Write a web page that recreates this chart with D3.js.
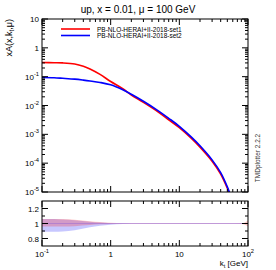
<!DOCTYPE html>
<html><head><meta charset="utf-8">
<script src="https://cdn.jsdelivr.net/npm/d3@7"></script>
<style>body{margin:0;background:#fff}svg{display:block;font-family:"Liberation Sans",Arial,sans-serif}</style>
</head><body><svg id="c" width="276" height="270"></svg>
<script>
const title = "up, x = 0.01, μ = 100 GeV";
const seriesNames = ["PB-NLO-HERAI+II-2018-set1", "PB-NLO-HERAI+II-2018-set2"];
const seriesColors = ["#ff0000", "#0000ff"];
const kt = [0.1,0.15,0.2,0.3,0.4,0.5,0.7,1,1.5,2,3,5,7,10,15,20,30,40,50,60];
const set1 = [0.31,0.305,0.30,0.275,0.23,0.185,0.12,0.068,0.038,0.023,0.0128,0.0058,0.0032,0.0017,0.00072,0.00036,0.000117,4.2e-5,1.35e-5,4.2e-6];
const set2 = [0.094,0.092,0.088,0.082,0.076,0.071,0.063,0.052,0.035,0.0245,0.014,0.0064,0.0036,0.0019,0.0008,0.0004,0.00013,4.7e-5,1.5e-5,4.6e-6];
const ratioK = [0.1,0.15,0.2,0.3,0.5,0.7,1,1.5,2,5,10,20,50,80,90,100];
const band1Lo = [0.96,0.96,0.96,0.965,0.98,0.99,0.995,0.998,0.998,0.998,0.998,0.998,0.998,0.995,0.985,0.96];
const band1Hi = [1.06,1.06,1.06,1.05,1.03,1.02,1.01,1.004,1.003,1.002,1.002,1.002,1.002,1.005,1.015,1.04];
const band2Lo = [0.89,0.89,0.895,0.91,0.95,0.97,0.985,0.995,0.998,0.998,0.998,0.998,0.998,0.998,0.998,0.998];
const band2Hi = [1.06,1.06,1.055,1.045,1.025,1.012,1.005,1.002,1.001,1.001,1.001,1.001,1.001,1.001,1.001,1.001];
const yMajor = [10,1,0.1,0.01,0.001,1e-4,1e-5];
const yLabels = ["10","1","10^-1","10^-2","10^-3","10^-4","10^-5"];
const xMajor = [0.1,1,10,100];
const xLabels = ["10^-1","1","10","10^2"];
const rMajor = [0.8,1,1.2];
const rLabels = ["0.8","1","1.2"];

const svg = d3.select("#c");
const L=42, R=248, T=19, B=192, RT=201, RB=246;
const x = d3.scaleLog().domain([0.1,100]).range([L,R]);
const y = d3.scaleLog().domain([1e-5,10]).range([B,T]);
const yr = d3.scaleLinear().domain([0.7,1.3]).range([RB,RT]);

function sup(sel, s){
  const p = s.split("^");
  sel.text(p[0]);
  if(p[1]) sel.append("tspan").attr("dy",-4).attr("font-size","0.72em").text(p[1]);
}

svg.append("text").attr("x",138).attr("y",13).attr("text-anchor","middle").attr("font-size",10).text(title);

svg.append("clipPath").attr("id","cm").append("rect").attr("x",L).attr("y",T).attr("width",R-L).attr("height",B-T);
svg.append("clipPath").attr("id","cr").append("rect").attr("x",L).attr("y",RT).attr("width",R-L).attr("height",RB-RT);

const gr = svg.append("g").attr("clip-path","url(#cr)");
const bandData = ratioK.map((k,i)=>({k,l1:band1Lo[i],h1:band1Hi[i],l2:band2Lo[i],h2:band2Hi[i]}));
gr.append("path").datum(bandData).attr("fill","#0000ff").attr("fill-opacity",0.22)
  .attr("d",d3.area().x(d=>x(d.k)).y0(d=>yr(d.l2)).y1(d=>yr(d.h2)).curve(d3.curveMonotoneX));
gr.append("path").datum(bandData).attr("fill","#ff0000").attr("fill-opacity",0.22)
  .attr("d",d3.area().x(d=>x(d.k)).y0(d=>yr(d.l1)).y1(d=>yr(d.h1)).curve(d3.curveMonotoneX));
gr.append("line").attr("x1",L).attr("x2",R).attr("y1",yr(1)).attr("y2",yr(1)).attr("stroke","#a070d0").attr("stroke-width",1).attr("stroke-opacity",0.6);

const gm = svg.append("g").attr("clip-path","url(#cm)");
[set1,set2].forEach((s,i)=>{
  gm.append("path").datum(kt.map((k,j)=>[k,s[j]])).attr("fill","none").attr("stroke",seriesColors[i]).attr("stroke-width",1.6)
    .attr("d",d3.line().x(d=>x(d[0])).y(d=>y(d[1])).curve(d3.curveCatmullRom));
});

function frame(t,b){svg.append("rect").attr("x",L).attr("y",t).attr("width",R-L).attr("height",b-t).attr("fill","none").attr("stroke","#000").attr("stroke-width",1);}
frame(T,B); frame(RT,RB);

const xMinor=[]; for(let d=0.1; d<100; d*=10) for(let m=2;m<=9;m++) xMinor.push(d*m);
function xticks(t,b){
  xMajor.forEach(v=>{svg.append("line").attr("x1",x(v)).attr("x2",x(v)).attr("y1",b).attr("y2",b-6).attr("stroke","#000");
    svg.append("line").attr("x1",x(v)).attr("x2",x(v)).attr("y1",t).attr("y2",t+6).attr("stroke","#000");});
  xMinor.forEach(v=>{svg.append("line").attr("x1",x(v)).attr("x2",x(v)).attr("y1",b).attr("y2",b-3).attr("stroke","#000");
    svg.append("line").attr("x1",x(v)).attr("x2",x(v)).attr("y1",t).attr("y2",t+3).attr("stroke","#000");});
}
xticks(T,B); xticks(RT,RB);
xMajor.forEach((v,i)=>{ svg.append("text").attr("x",x(v)).attr("y",RB+11).attr("text-anchor","middle").attr("font-size",8).call(sup,xLabels[i]); });

const yMinor=[]; for(let d=1e-5; d<10; d*=10) for(let m=2;m<=9;m++) yMinor.push(d*m);
yMajor.forEach((v,i)=>{
  svg.append("line").attr("x1",L).attr("x2",L+6).attr("y1",y(v)).attr("y2",y(v)).attr("stroke","#000");
  svg.append("line").attr("x1",R).attr("x2",R-6).attr("y1",y(v)).attr("y2",y(v)).attr("stroke","#000");
  svg.append("text").attr("x",L-3).attr("y",y(v)+3).attr("text-anchor","end").attr("font-size",8).call(sup,yLabels[i]);
});
yMinor.forEach(v=>{
  svg.append("line").attr("x1",L).attr("x2",L+3).attr("y1",y(v)).attr("y2",y(v)).attr("stroke","#000");
  svg.append("line").attr("x1",R).attr("x2",R-3).attr("y1",y(v)).attr("y2",y(v)).attr("stroke","#000");
});
[0.8,0.9,1,1.1,1.2].forEach(v=>{
  const len = rMajor.includes(v)?6:3;
  svg.append("line").attr("x1",L).attr("x2",L+len).attr("y1",yr(v)).attr("y2",yr(v)).attr("stroke","#000");
  svg.append("line").attr("x1",R).attr("x2",R-len).attr("y1",yr(v)).attr("y2",yr(v)).attr("stroke","#000");
});
rMajor.forEach((v,i)=>svg.append("text").attr("x",L-3).attr("y",yr(v)+3).attr("text-anchor","end").attr("font-size",8).text(rLabels[i]));

seriesNames.forEach((n,i)=>{
  const ly = 29+i*6.5;
  svg.append("line").attr("x1",61).attr("x2",90).attr("y1",ly).attr("y2",ly).attr("stroke",seriesColors[i]).attr("stroke-width",1.6);
  svg.append("text").attr("x",97).attr("y",ly+2.5).attr("font-size",6.5).text(n);
});

const yl = svg.append("text").attr("transform","translate(12,19) rotate(-90)").attr("text-anchor","end").attr("font-size",9);
yl.append("tspan").text("xA(x,k");
yl.append("tspan").attr("dy",2).attr("font-size","0.7em").text("t");
yl.append("tspan").attr("dy",-2).text(",μ)");
const xl = svg.append("text").attr("x",R).attr("y",266).attr("text-anchor","end").attr("font-size",8);
xl.append("tspan").text("k");
xl.append("tspan").attr("dy",2).attr("font-size","0.7em").text("t");
xl.append("tspan").attr("dy",-2).text(" [GeV]");
svg.append("text").attr("transform","translate(260,158) rotate(-90)").attr("text-anchor","middle").attr("font-size",6.5).attr("fill","#333").text("TMDplotter 2.2.2");
</script></body></html>
